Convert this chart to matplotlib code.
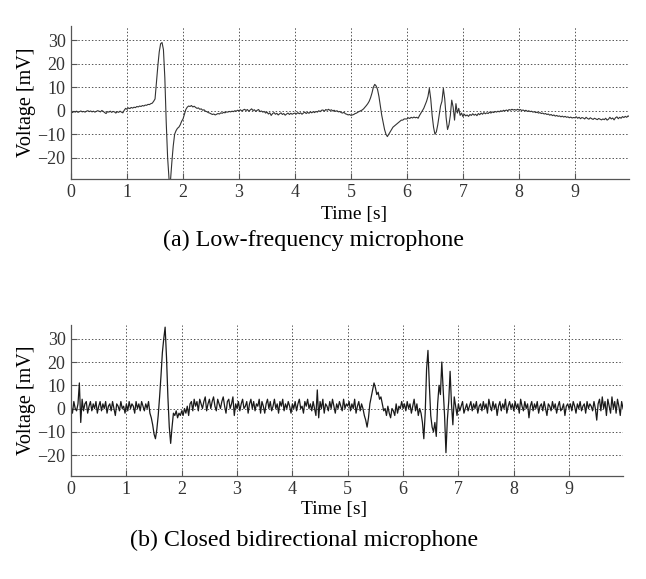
import matplotlib
matplotlib.use("Agg")
import matplotlib.pyplot as plt
import numpy as np

plt.rcParams['font.family'] = ['Liberation Serif', 'DejaVu Serif']

# sampling step of the hand-read traces (s)
step = 0.025

# (a) low-frequency microphone, mV, rows of 0.5 s
low_freq = [
    -0.5, -0.8, -0.3, -0.6, -0.2, -0.7, -0.4, -0.1, -0.5, -0.3, -0.6, -0.2, 0.0, -0.4, -0.1, -0.5, -0.2, -0.6, -0.3, 0.0,
    -0.2, -0.5, 0.1, -0.3, -0.8, -1.2, -0.4, -0.6, -0.2, -0.7, -0.3, -0.5, -1.0, -0.4, -0.7, -0.2, -0.6, -0.9, 0.2, 1.0,
    0.6, 1.2, 0.9, 1.4, 1.1, 1.5, 1.3, 1.8, 1.6, 2.0, 1.8, 2.2, 2.0, 2.4, 2.3, 2.7, 2.6, 3.0, 3.2, 4.0,
    5, 12, 19, 25, 28.5, 29, 26, 14, -5, -20, -29, -30, -22, -15, -10, -8.5, -7.5, -7, -6, -4.5,
    -3.5, -1.5, 0.5, 1.5, 2.0, 1.8, 2.2, 1.6, 1.9, 1.4, 1.0, 1.2, 0.6, 0.8, 0.2, 0.4, -0.2, -0.4, -0.8, -1.0,
    -1.3, -1.6, -1.4, -1.8, -1.5, -1.2, -1.4, -0.9, -1.1, -0.7, -0.9, -0.5, -0.6, -0.3, -0.5, -0.2, -0.4, 0.0, -0.2, 0.2,
    0.0, 0.4, -0.1, 0.3, 0.6, 0.1, 0.5, -0.2, 0.3, 0.8, 0.1, 0.4, -0.3, 0.2, 0.5, -0.4, -0.1, -0.6, -0.3, -1.0,
    -0.6, -1.4, -0.9, -2.0, -1.2, -0.8, -1.5, -1.1, -1.8, -1.3, -0.9, -1.6, -1.2, -1.9, -1.4, -1.0, -1.6, -1.1, -1.5, -1.2,
    -1.0, -1.4, -0.8, -1.3, -0.9, -1.5, -1.0, -0.6, -1.2, -0.7, -1.1, -0.5, -0.9, -0.4, -0.8, -0.3, -0.6, 0.0, -0.4, 0.2,
    0.3, -0.2, 0.5, 0.2, 0.6, 0.1, 0.4, -0.1, 0.2, -0.3, 0.0, -0.5, -0.3, -0.8, -1.0, -0.7, -1.3, -1.5, -1.8, -1.6,
    -2.0, -1.8, -1.6, -1.2, -1.0, -0.6, -0.3, 0.0, 0.3, 0.8, 1.5, 2.2, 3.0, 4.0, 5.5, 7.5, 10.0, 11.2, 10.5, 9.0,
    6, 2, -2, -5, -8, -10, -11, -10, -9, -8, -7, -6.5, -6, -5.5, -5, -4.5, -4, -4, -3.5, -3.5,
    -3.5, -3.0, -3.3, -2.8, -3.1, -2.7, -3.0, -2.8, -3.2, -2.0, -1.0, 0.0, 1.0, 2.5, 4.0, 6.0, 9.5, 5.0, -2.0, -7.0,
    -10, -9, -6, -2, 2, 4, 9.5, 5, -3, -8, -6, -2, 4.5, 1.5, -4, 3, -1, 1, -2, -1,
    -2.5, -1.5, -2.2, -1.8, -2.4, -1.6, -2.0, -1.3, -1.9, -1.5, -2.1, -1.2, -1.7, -1.0, -1.5, -0.8, -1.3, -0.9, -1.2, -0.6,
    -1.0, -0.5, -0.8, -0.3, -0.6, -0.2, -0.5, 0.0, -0.3, 0.2, -0.1, 0.3, 0.0, 0.5, 0.2, 0.6, 0.3, 0.5, 0.2, 0.6,
    0.3, 0.5, 0.1, 0.3, -0.1, 0.2, -0.3, 0.0, -0.4, -0.2, -0.6, -0.4, -0.8, -0.6, -1.0, -0.8, -1.2, -1.0, -1.4, -1.2,
    -1.6, -1.4, -1.9, -1.6, -2.1, -1.8, -2.3, -2.0, -2.4, -2.2, -2.6, -2.3, -2.7, -2.4, -2.8, -2.6, -3.0, -2.7, -3.1, -2.9,
    -3.0, -2.6, -3.2, -2.8, -3.4, -2.9, -3.1, -3.5, -2.8, -3.3, -3.6, -3.0, -3.4, -3.7, -3.2, -3.5, -3.8, -3.3, -3.6, -3.9,
    -3.5, -3.8, -3.2, -4.0, -3.6, -2.8, -3.5, -3.1, -3.9, -3.0, -2.6, -3.4, -2.8, -3.2, -2.5, -2.9, -2.4, -2.8, -2.2, -2.5,
]

# (b) closed bidirectional microphone, mV, rows of 0.5 s
bidir = [
    1, -2, 3, 0, -1, 2, 11, -6, 4, -1, 2, 3, -2, 1, 3, -1, 2, 0, 3, -2,
    1, 3, -1, 2, 0, 3, -2, 1, 2, -1, 3, 0, -3, 2, 1, -1, 3, 0, 1, -2,
    2, -1, 3, 0, 2, 1, -2, 3, 0, 2, -1, 3, 1, -1, 2, 0, 3, -2, -4, -7,
    -11, -13, -9, -3, 5, 14, 24, 30, 35, 22, 5, -8, -15, -8, -2, -3, -1, -4, -2, -3,
    -1, -3, 0, -2, 1, -3, 2, 3, -1, 4, 1, 3, -1, 4, 2, 0, 3, 5, -1, 2,
    4, 0, 3, 5, 1, -1, 4, 2, 0, 3, 5, 1, -2, 3, 4, 0, 2, 5, -3, 2,
    0, 3, -1, 2, 4, 0, 1, 3, -2, 2, 4, 0, 3, -1, 2, 1, 4, -2, 3, 1,
    -2, 2, 4, 0, 3, -1, 1, 4, 0, 2, -2, 3, 1, 4, -1, 2, 0, 3, 1, -2,
    2, 0, 3, -1, 2, 4, 0, 1, -2, 3, 1, 4, 0, 2, -1, 3, 0, -3, 8, -4,
    3, 0, 4, -2, 2, 1, -1, 3, 0, 4, 1, -2, 2, 0, 3, 1, -1, 4, 0, 2,
    1, 3, -1, 2, 0, 4, -2, 1, 3, -1, 2, 0, -3, -5, -8, -4, 2, 5, 8, 11,
    9, 6, 7, 4, 5, 2, -1, 0, -3, 1, -2, -4, 0, -1, -3, 2, -2, 1, 0, 3,
    0, 2, -1, 3, 0, 2, -2, 1, 4, -1, 2, -3, 0, -2, -6, -13, -2, 17, 25, 10,
    -3, -8, -10, -6, -12, 2, 10, 6, 20, 8, -3, -19, -5, 3, 16, 2, -7, 5, 1, -3,
    2, -1, 1, 3, -2, 0, 2, -1, 1, 3, -1, 2, 0, 3, -2, 1, 2, -1, 3, 0,
    2, -2, 4, 1, -1, 3, 0, 2, -3, 1, 3, -1, 2, 0, 4, -2, 1, 3, 0, 2,
    -1, 3, 0, 2, -2, 4, 1, -1, 3, 0, 2, -4, 1, 3, -1, 2, 0, 3, -2, 1,
    2, -1, 3, 0, -3, 2, 1, -1, 3, 0, 2, -2, 1, 3, -1, 0, 2, -3, 1, 2,
    0, 2, -1, 3, 1, -2, 2, 0, 3, -1, 1, 2, -2, 3, 0, 2, 1, -1, 3, 0,
    -5, 2, 4, -1, 5, 0, 3, -3, 4, 1, -2, 5, 0, 3, -2, 4, 1, -3, 3, 0,
]

x_ticks = [0, 1, 2, 3, 4, 5, 6, 7, 8, 9]
y_ticks = [-20, -10, 0, 10, 20, 30]
captions = ["(a) Low-frequency microphone", "(b) Closed bidirectional microphone"]


def style_axis(ax):
    ax.set_xlim(0, 9.97)
    ax.set_ylim(-29, 36)
    ax.set_xticks(x_ticks)
    ax.set_yticks(y_ticks)
    for side in ["top", "right"]:
        ax.spines[side].set_visible(False)
    for side in ["left", "bottom"]:
        ax.spines[side].set_color("#555555")
        ax.spines[side].set_linewidth(0.9)
    ax.tick_params(direction="in", length=4, width=0.8, color="#555555",
                   labelsize=13, labelcolor="#333333", pad=4)
    ax.grid(True, linestyle=(0, (1.5, 2)), color="#555555", linewidth=0.7)
    ax.set_ylabel("Voltage [mV]", fontsize=14.5, labelpad=1)
    ax.set_xlabel("Time [s]", fontsize=14)


fig = plt.figure(figsize=(6.46, 5.79), dpi=100)
ax1 = fig.add_axes([0.110, 0.691, 0.864, 0.264])
ax2 = fig.add_axes([0.110, 0.178, 0.854, 0.261])

t1 = np.arange(len(low_freq)) * step
t2 = np.arange(len(bidir)) * step

ax1.plot(t1, low_freq, color="#333333", linewidth=0.8)
ax2.plot(t2, bidir, color="#1a1a1a", linewidth=0.9)

for ax in (ax1, ax2):
    style_axis(ax)

ax1.xaxis.set_label_coords(0.507, -0.178)
ax2.xaxis.set_label_coords(0.476, -0.168)

fig.text(0.486, 1 - 240 / 579, captions[0], ha="center", va="center", fontsize=17.3)
fig.text(0.471, 1 - 540 / 579, captions[1], ha="center", va="center", fontsize=17.3)

fig.savefig("out.png", dpi=100)
